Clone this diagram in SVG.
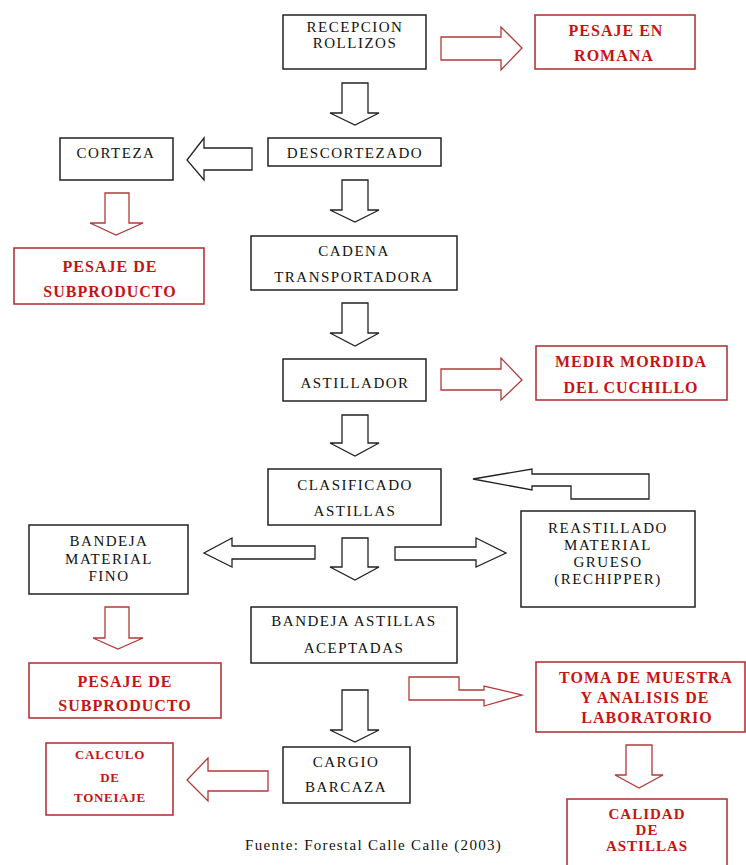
<svg xmlns="http://www.w3.org/2000/svg" width="746" height="865" viewBox="0 0 746 865">
<style>
  .bx { fill: #fff; stroke: #222; stroke-width: 1.5; }
  .rbx { fill: #fff; stroke: #b02a2a; stroke-width: 1.5; }
  .ar { fill: #fff; stroke: #222; stroke-width: 1.3; stroke-linejoin: miter; }
  .rar { fill: #fff; stroke: #b03a3a; stroke-width: 1.3; stroke-linejoin: miter; }
  .t { font-family: "Liberation Serif", "Times New Roman", serif; font-size: 15px; letter-spacing: 1.5px; fill: #111; text-anchor: middle; }
  .rt { font-family: "Liberation Serif", "Times New Roman", serif; font-size: 16px; font-weight: bold; letter-spacing: 1px; fill: #c41414; text-anchor: middle; }
  .rs { font-size: 13px; letter-spacing: 0.7px; }
  .rm { font-size: 15px; }
  .src { font-family: "Liberation Serif", "Times New Roman", serif; font-size: 15px; letter-spacing: 1.3px; fill: #111; }
</style>
<rect width="746" height="865" fill="#fff"/>

<g id="connectors">
  <!-- black down arrows -->
  <polygon class="ar" points="342,83 368,83 368,113 379,113 355,125 330,113 342,113"/>
  <polygon class="ar" points="342,180 368,180 368,210 379,210 355,222 330,210 342,210"/>
  <polygon class="ar" points="342,303 368,303 368,333 379,333 355,346 330,333 342,333"/>
  <polygon class="ar" points="342,415 368,415 368,443 379,443 355,456 330,443 342,443"/>
  <polygon class="ar" points="342,538 368,538 368,567 379,567 355,580 330,567 342,567"/>
  <polygon class="ar" points="342,690 368,690 368,730 379,730 355,742 330,730 342,730"/>
  <!-- black left arrow to CORTEZA -->
  <polygon class="ar" points="252,148 252,170 204,170 204,180 187,160 204,138 204,148"/>
  <!-- black left arrow to BANDEJA MATERIAL FINO -->
  <polygon class="ar" points="315,546 315,559 232,559 232,567 204,553 232,538 232,546"/>
  <!-- black right arrow to REASTILLADO -->
  <polygon class="ar" points="395,547 476,547 476,538 506,553 476,567 476,560 395,560"/>
  <!-- return arrow from REASTILLADO to CLASIFICADO -->
  <polygon class="ar" points="473,479 532,469 532,474 649,474 649,499 571,499 571,486 532,486 532,490"/>
  <!-- red arrows -->
  <polygon class="rar" points="441,37 501,37 501,27 522,48 501,70 501,60 441,60"/>
  <polygon class="rar" points="105,193 129,193 129,223 143,223 116,235 90,223 105,223"/>
  <polygon class="rar" points="441,369 501,369 501,358 522,380 501,400 501,390 441,390"/>
  <polygon class="rar" points="105,607 129,607 129,638 143,638 118,649 93,638 105,638"/>
  <polygon class="rar" points="409,677 459,677 459,690 484,690 484,686 522,695 484,706 484,700 409,700"/>
  <polygon class="rar" points="268,771 268,791 208,791 208,801 187,780 208,758 208,771"/>
  <polygon class="rar" points="626,745 652,745 652,775 663,775 639,788 615,775 626,775"/>
</g>

<g id="recepcion">
  <rect class="bx" x="283" y="15" width="143" height="54"/>
  <text class="t" x="355" y="32">RECEPCION</text>
  <text class="t" x="355" y="48">ROLLIZOS</text>
</g>
<g id="pesaje-romana">
  <rect class="rbx" x="535" y="15" width="160" height="54"/>
  <text class="rt" x="616" y="36">PESAJE EN</text>
  <text class="rt" x="614" y="61">ROMANA</text>
</g>
<g id="descortezado">
  <rect class="bx" x="268" y="138" width="173" height="28"/>
  <text class="t" x="355" y="158">DESCORTEZADO</text>
</g>
<g id="corteza">
  <rect class="bx" x="60" y="138" width="113" height="42"/>
  <text class="t" x="116" y="158">CORTEZA</text>
</g>
<g id="pesaje-subproducto-1">
  <rect class="rbx" x="14" y="248" width="190" height="56"/>
  <text class="rt" x="110" y="272">PESAJE DE</text>
  <text class="rt" x="110" y="297">SUBPRODUCTO</text>
</g>
<g id="cadena">
  <rect class="bx" x="251" y="236" width="206" height="54"/>
  <text class="t" x="354" y="256">CADENA</text>
  <text class="t" x="354" y="282">TRANSPORTADORA</text>
</g>
<g id="astillador">
  <rect class="bx" x="283" y="359" width="143" height="42"/>
  <text class="t" x="355" y="388">ASTILLADOR</text>
</g>
<g id="medir">
  <rect class="rbx" x="536" y="346" width="191" height="54"/>
  <text class="rt" x="631" y="367">MEDIR MORDIDA</text>
  <text class="rt" x="631" y="393">DEL CUCHILLO</text>
</g>
<g id="clasificado">
  <rect class="bx" x="268" y="469" width="173" height="56"/>
  <text class="t" x="355" y="490">CLASIFICADO</text>
  <text class="t" x="355" y="516">ASTILLAS</text>
</g>
<g id="bandeja-fino">
  <rect class="bx" x="29" y="525" width="159" height="69"/>
  <text class="t" x="109" y="546">BANDEJA</text>
  <text class="t" x="109" y="564">MATERIAL</text>
  <text class="t" x="109" y="581">FINO</text>
</g>
<g id="reastillado">
  <rect class="bx" x="521" y="511" width="174" height="96"/>
  <text class="t" x="608" y="533">REASTILLADO</text>
  <text class="t" x="608" y="550">MATERIAL</text>
  <text class="t" x="608" y="567">GRUESO</text>
  <text class="t" x="608" y="584">(RECHIPPER)</text>
</g>
<g id="bandeja-aceptadas">
  <rect class="bx" x="251" y="607" width="206" height="56"/>
  <text class="t" x="354" y="626">BANDEJA ASTILLAS</text>
  <text class="t" x="354" y="653">ACEPTADAS</text>
</g>
<g id="pesaje-subproducto-2">
  <rect class="rbx" x="29" y="663" width="192" height="55"/>
  <text class="rt" x="125" y="687">PESAJE DE</text>
  <text class="rt" x="125" y="711">SUBPRODUCTO</text>
</g>
<g id="toma-muestra">
  <rect class="rbx" x="536" y="662" width="209" height="70"/>
  <text class="rt" x="646" y="683">TOMA DE MUESTRA</text>
  <text class="rt" x="645" y="703">Y ANALISIS DE</text>
  <text class="rt" x="647" y="723">LABORATORIO</text>
</g>
<g id="cargio">
  <rect class="bx" x="283" y="747" width="127" height="56"/>
  <text class="t" x="346" y="767">CARGIO</text>
  <text class="t" x="346" y="792">BARCAZA</text>
</g>
<g id="calculo">
  <rect class="rbx" x="46" y="743" width="127" height="72"/>
  <text class="rt rs" x="110" y="759">CALCULO</text>
  <text class="rt rs" x="110" y="782">DE</text>
  <text class="rt rs" x="110" y="802">TONEIAJE</text>
</g>
<g id="calidad">
  <rect class="rbx" x="567" y="799" width="160" height="80"/>
  <text class="rt rm" x="647" y="819">CALIDAD</text>
  <text class="rt rm" x="647" y="835">DE</text>
  <text class="rt rm" x="647" y="851">ASTILLAS</text>
</g>
<text class="src" x="245" y="850">Fuente: Forestal Calle Calle (2003)</text>
</svg>
